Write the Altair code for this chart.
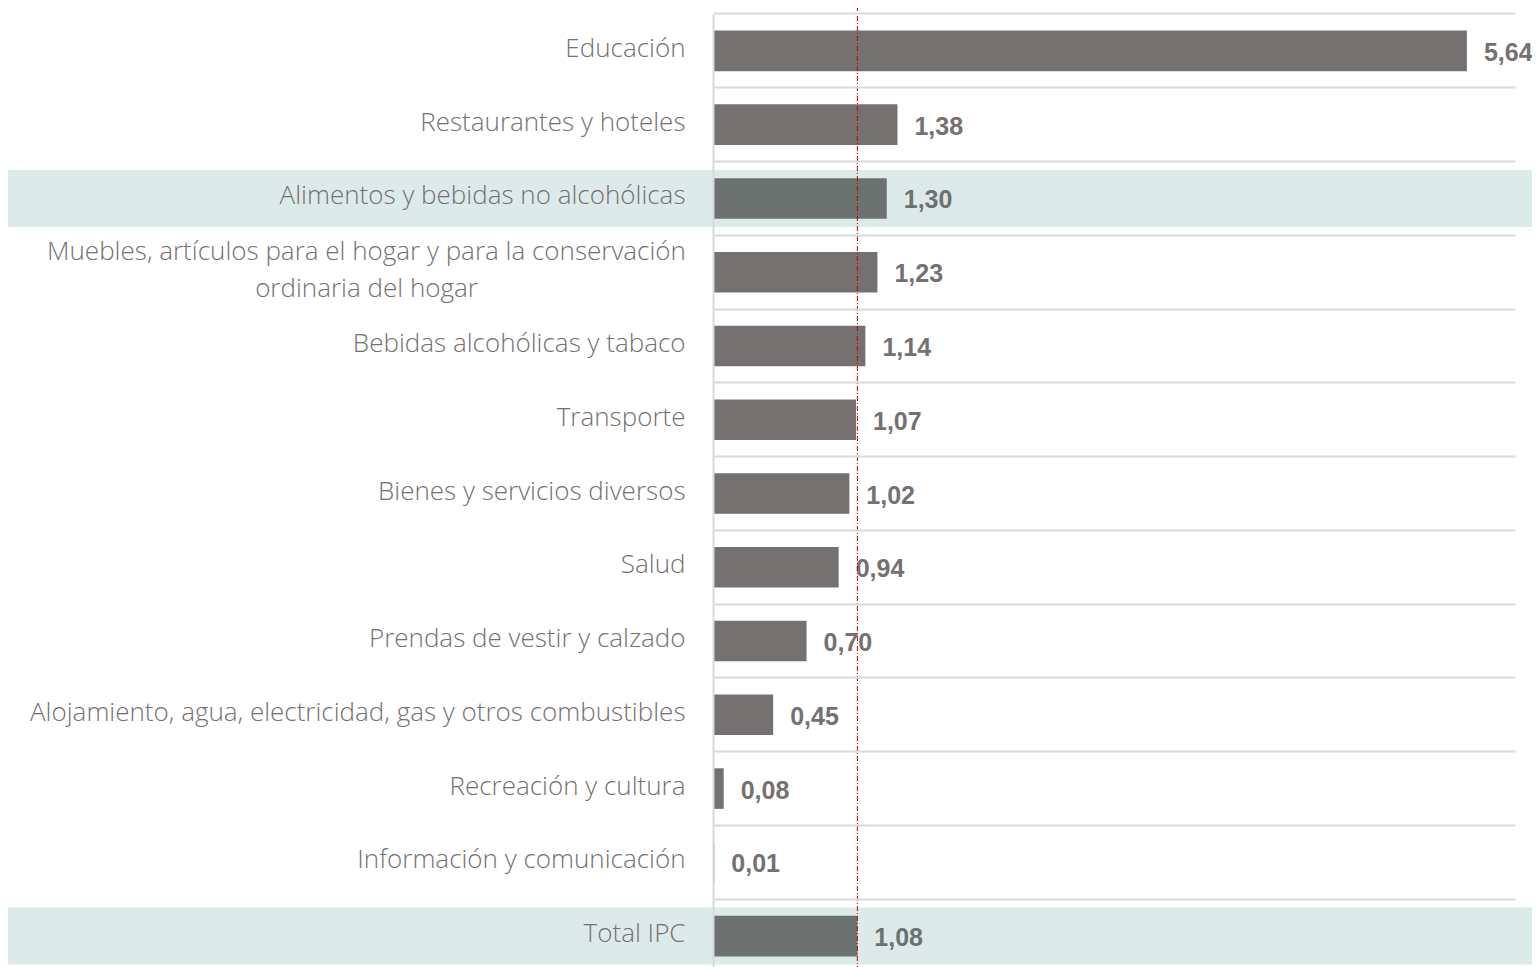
import altair as alt
import pandas as pd

categories = [
    "Educación",
    "Restaurantes y hoteles",
    "Alimentos y bebidas no alcohólicas",
    "Muebles, artículos para el hogar y para la conservación|ordinaria del hogar",
    "Bebidas alcohólicas y tabaco",
    "Transporte",
    "Bienes y servicios diversos",
    "Salud",
    "Prendas de vestir y calzado",
    "Alojamiento, agua, electricidad, gas y otros combustibles",
    "Recreación y cultura",
    "Información y comunicación",
    "Total IPC",
]
values = [5.64, 1.38, 1.30, 1.23, 1.14, 1.07, 1.02, 0.94, 0.70, 0.45, 0.08, 0.01, 1.08]
highlighted = ["Alimentos y bebidas no alcohólicas", "Total IPC"]
reference_value = 1.08

df = pd.DataFrame({"cat": categories, "value": values})
df["hl"] = df["cat"].isin(highlighted)
df["label"] = [f"{v:.2f}".replace(".", ",") for v in values]

W, H = 802, 959
PI = 0.45

ysc = alt.Scale(domain=categories, paddingInner=PI, paddingOuter=PI / 2)
xsc = alt.Scale(domain=[0, 6], nice=False, zero=True)

multi = "indexof(datum.label, '|') >= 0"

y_axis = alt.Axis(
    title=None,
    labelExpr="split(datum.label, '|')",
    labelFont="Open Sans",
    labelFontWeight=300,
    labelFontSize=26,
    labelColor="#757171",
    labelLineHeight=37,
    labelLimit=800,
    labelPadding={"condition": {"test": multi, "value": 347}, "value": 28},
    labelAlign={"condition": {"test": multi, "value": "center"}, "value": "right"},
    labelOffset={"condition": {"test": multi, "value": -20}, "value": -2},
    ticks=False,
    grid=True,
    gridColor="#D9D9D9",
    gridWidth=2,
    bandPosition=-(PI / 2) / (1 - PI),
    domainColor="#D9D9D9",
    domainWidth=2,
    zindex=1,
)

y_enc = alt.Y("cat:N", sort=categories, scale=ysc, axis=y_axis)

base = alt.Chart(df)

hl_layer = base.transform_filter("datum.hl").mark_bar(height=57, color="#DDEAEA").encode(
    y=y_enc,
    x=alt.value(-708),
    x2=alt.value(W + 40),
)

bars = base.mark_bar().encode(
    y=y_enc,
    x=alt.X("value:Q", scale=xsc, axis=None),
    color=alt.condition("datum.hl", alt.value("#6B7270"), alt.value("#767171")),
)

text = base.mark_text(
    align="left", baseline="middle", dx=17, dy=2,
    font="Liberation Sans", fontWeight="bold", fontSize=25,
).encode(
    y=y_enc,
    x=alt.X("value:Q", scale=xsc, axis=None),
    text="label:N",
    color=alt.condition("datum.hl", alt.value("#6B7270"), alt.value("#767171")),
)

rule = alt.Chart(pd.DataFrame({"ref": [reference_value]})).mark_rule(
    color="#C00000", strokeDash=[5, 2, 1, 2], strokeWidth=1
).encode(
    x=alt.X("ref:Q", scale=xsc, axis=None),
    y=alt.value(-8),
    y2=alt.value(H),
)

chart = alt.layer(hl_layer, bars, text, rule).properties(
    width=W,
    height=H,
    padding={"left": 705, "top": 6, "right": 17, "bottom": 0},
    autosize=alt.AutoSizeParams(type="none"),
).configure_view(stroke=None)

chart.save("out.html", embed_options={"renderer": "svg", "actions": False})
